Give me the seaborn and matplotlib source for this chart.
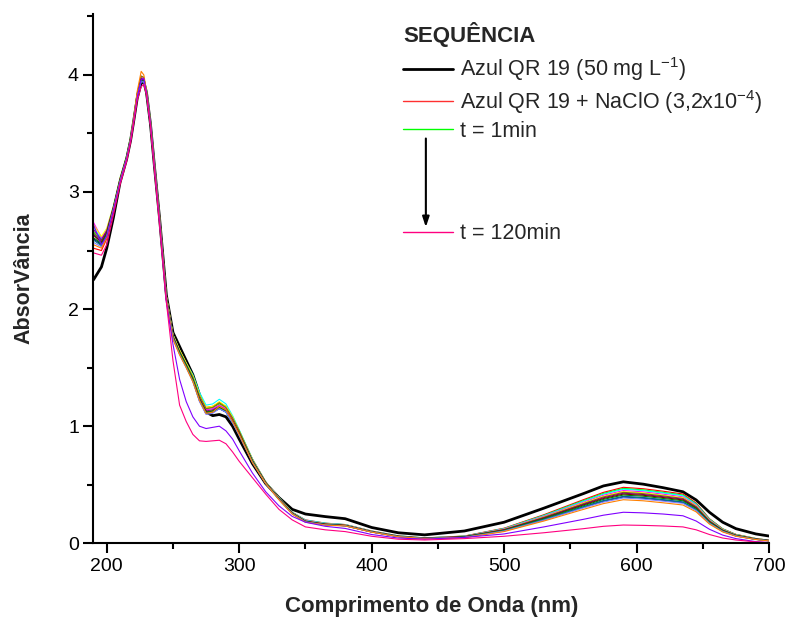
import numpy as np
import pandas as pd
import matplotlib
matplotlib.use('Agg')
import matplotlib.pyplot as plt
from matplotlib.lines import Line2D
from matplotlib.ticker import MultipleLocator
import seaborn as sns

# wavelengths (nm)
wl = [190, 196, 200, 205, 210, 215, 218, 220, 223, 226, 228, 230, 233, 236, 240,
      245, 250, 255, 260, 265, 270, 275, 280, 285, 290, 295, 300, 310, 320, 330, 340,
      350, 365, 380, 400, 420, 440, 470, 500, 530, 560, 575, 590, 605, 620, 635, 645, 655, 665, 675, 690, 700]

azul = [2.25, 2.36, 2.52, 2.78, 3.08, 3.28, 3.44, 3.58, 3.80, 3.93, 3.94, 3.85, 3.58, 3.22, 2.76,
        2.12, 1.80, 1.68, 1.56, 1.44, 1.27, 1.12, 1.09, 1.10, 1.08, 1.00, 0.89, 0.68, 0.51, 0.39, 0.29,
        0.25, 0.228, 0.21, 0.135, 0.09, 0.072, 0.105, 0.18, 0.30, 0.425, 0.49, 0.525, 0.505, 0.475, 0.44, 0.37, 0.265, 0.18, 0.125, 0.08, 0.062]

naclo = [2.52, 2.50, 2.60, 2.85, 3.10, 3.30, 3.46, 3.60, 3.83, 3.97, 3.96, 3.86, 3.60, 3.24, 2.78,
         2.12, 1.78, 1.65, 1.54, 1.43, 1.27, 1.16, 1.17, 1.20, 1.17, 1.08, 0.96, 0.72, 0.525, 0.39, 0.265,
         0.20, 0.172, 0.16, 0.105, 0.064, 0.046, 0.062, 0.129, 0.244, 0.373, 0.435, 0.478, 0.466, 0.445, 0.421, 0.344, 0.21, 0.124, 0.076, 0.041, 0.026]

# kinetic series, t = 1 min ... t = 120 min
t01 = [2.66, 2.58, 2.66, 2.87, 3.11, 3.31, 3.47, 3.61, 3.84, 3.98, 3.97, 3.87, 3.60, 3.24, 2.77,
       2.11, 1.78, 1.64, 1.53, 1.42, 1.26, 1.15, 1.16, 1.19, 1.16, 1.07, 0.96, 0.715, 0.522, 0.388, 0.263,
       0.195, 0.17, 0.158, 0.103, 0.063, 0.045, 0.061, 0.126, 0.239, 0.365, 0.426, 0.468, 0.456, 0.435, 0.412, 0.337, 0.206, 0.122, 0.075, 0.04, 0.026]
t02 = [2.64, 2.57, 2.65, 2.86, 3.10, 3.30, 3.46, 3.60, 3.83, 3.96, 3.95, 3.86, 3.59, 3.23, 2.76,
       2.09, 1.76, 1.62, 1.51, 1.39, 1.22, 1.11, 1.12, 1.15, 1.12, 1.03, 0.93, 0.70, 0.515, 0.38, 0.255,
       0.185, 0.16, 0.15, 0.097, 0.058, 0.041, 0.052, 0.108, 0.204, 0.312, 0.364, 0.40, 0.39, 0.372, 0.352, 0.288, 0.176, 0.104, 0.064, 0.034, 0.022]
t03 = [2.70, 2.60, 2.68, 2.88, 3.12, 3.31, 3.47, 3.61, 3.84, 3.97, 3.96, 3.87, 3.60, 3.24, 2.77,
       2.11, 1.78, 1.65, 1.54, 1.44, 1.29, 1.18, 1.19, 1.23, 1.19, 1.09, 0.97, 0.72, 0.525, 0.39, 0.265,
       0.198, 0.172, 0.16, 0.104, 0.064, 0.046, 0.06, 0.125, 0.236, 0.36, 0.42, 0.462, 0.45, 0.43, 0.407, 0.333, 0.203, 0.12, 0.074, 0.039, 0.025]
t04 = [2.74, 2.61, 2.67, 2.87, 3.11, 3.30, 3.46, 3.60, 3.83, 3.99, 3.97, 3.86, 3.59, 3.23, 2.76,
       2.10, 1.77, 1.64, 1.53, 1.41, 1.25, 1.14, 1.15, 1.18, 1.15, 1.06, 0.95, 0.71, 0.52, 0.385, 0.26,
       0.192, 0.167, 0.157, 0.102, 0.062, 0.044, 0.059, 0.122, 0.23, 0.351, 0.41, 0.45, 0.439, 0.419, 0.396, 0.324, 0.198, 0.117, 0.072, 0.038, 0.025]
t05 = [2.72, 2.62, 2.69, 2.88, 3.12, 3.31, 3.47, 3.61, 3.84, 3.97, 3.97, 3.87, 3.60, 3.24, 2.77,
       2.11, 1.78, 1.65, 1.54, 1.43, 1.27, 1.16, 1.17, 1.21, 1.17, 1.08, 0.96, 0.715, 0.522, 0.386, 0.262,
       0.19, 0.166, 0.156, 0.101, 0.061, 0.044, 0.057, 0.119, 0.225, 0.345, 0.402, 0.442, 0.431, 0.411, 0.389, 0.318, 0.194, 0.115, 0.071, 0.038, 0.024]
t06 = [2.65, 2.58, 2.66, 2.87, 3.11, 3.30, 3.46, 3.60, 3.84, 3.99, 3.98, 3.86, 3.59, 3.23, 2.76,
       2.10, 1.77, 1.64, 1.53, 1.42, 1.26, 1.15, 1.16, 1.20, 1.16, 1.07, 0.96, 0.71, 0.52, 0.384, 0.26,
       0.19, 0.165, 0.155, 0.101, 0.061, 0.044, 0.057, 0.117, 0.222, 0.339, 0.396, 0.435, 0.424, 0.405, 0.383, 0.313, 0.191, 0.113, 0.07, 0.037, 0.024]
t07 = [2.60, 2.55, 2.64, 2.86, 3.10, 3.30, 3.46, 3.60, 3.83, 3.96, 3.95, 3.85, 3.58, 3.22, 2.75,
       2.09, 1.76, 1.62, 1.51, 1.39, 1.22, 1.11, 1.12, 1.16, 1.13, 1.04, 0.93, 0.70, 0.515, 0.378, 0.255,
       0.185, 0.16, 0.15, 0.097, 0.058, 0.041, 0.051, 0.107, 0.201, 0.308, 0.359, 0.395, 0.385, 0.367, 0.348, 0.284, 0.174, 0.103, 0.063, 0.034, 0.022]
t08 = [2.68, 2.59, 2.67, 2.87, 3.11, 3.30, 3.46, 3.60, 3.83, 3.97, 3.96, 3.86, 3.59, 3.23, 2.76,
       2.10, 1.77, 1.63, 1.52, 1.40, 1.24, 1.13, 1.14, 1.17, 1.14, 1.05, 0.94, 0.705, 0.518, 0.382, 0.258,
       0.188, 0.163, 0.153, 0.099, 0.06, 0.043, 0.056, 0.116, 0.218, 0.334, 0.389, 0.428, 0.417, 0.398, 0.377, 0.308, 0.188, 0.111, 0.068, 0.036, 0.024]
t09 = [2.63, 2.57, 2.65, 2.86, 3.10, 3.30, 3.46, 3.60, 3.83, 3.96, 3.95, 3.86, 3.59, 3.23, 2.76,
       2.09, 1.76, 1.63, 1.52, 1.40, 1.23, 1.12, 1.13, 1.16, 1.13, 1.04, 0.94, 0.70, 0.516, 0.38, 0.256,
       0.186, 0.162, 0.152, 0.098, 0.059, 0.042, 0.055, 0.113, 0.214, 0.328, 0.382, 0.42, 0.41, 0.391, 0.37, 0.302, 0.185, 0.109, 0.067, 0.036, 0.023]
t10 = [2.61, 2.56, 2.64, 2.86, 3.10, 3.29, 3.45, 3.59, 3.82, 3.95, 3.95, 3.85, 3.58, 3.22, 2.75,
       2.09, 1.76, 1.63, 1.52, 1.40, 1.23, 1.12, 1.13, 1.16, 1.13, 1.04, 0.93, 0.70, 0.515, 0.378, 0.255,
       0.185, 0.16, 0.151, 0.098, 0.059, 0.042, 0.054, 0.111, 0.21, 0.321, 0.375, 0.412, 0.402, 0.383, 0.363, 0.297, 0.181, 0.107, 0.066, 0.035, 0.023]
t11 = [2.59, 2.54, 2.63, 2.85, 3.09, 3.29, 3.45, 3.59, 3.82, 3.95, 3.94, 3.85, 3.58, 3.22, 2.75,
       2.08, 1.75, 1.62, 1.51, 1.39, 1.22, 1.11, 1.12, 1.15, 1.12, 1.03, 0.93, 0.70, 0.512, 0.376, 0.253,
       0.183, 0.158, 0.15, 0.097, 0.058, 0.041, 0.052, 0.107, 0.203, 0.31, 0.362, 0.398, 0.388, 0.37, 0.35, 0.287, 0.175, 0.103, 0.064, 0.034, 0.022]
t12 = [2.57, 2.53, 2.62, 2.85, 3.09, 3.29, 3.45, 3.59, 3.82, 3.94, 3.94, 3.84, 3.58, 3.22, 2.75,
       2.08, 1.75, 1.61, 1.50, 1.38, 1.21, 1.10, 1.11, 1.15, 1.12, 1.03, 0.92, 0.69, 0.51, 0.374, 0.252,
       0.182, 0.157, 0.149, 0.096, 0.057, 0.041, 0.05, 0.104, 0.197, 0.302, 0.352, 0.387, 0.377, 0.36, 0.341, 0.279, 0.17, 0.101, 0.062, 0.033, 0.021]
t13 = [2.55, 2.52, 2.61, 2.84, 3.08, 3.28, 3.45, 3.60, 3.86, 4.03, 4.00, 3.86, 3.58, 3.22, 2.75,
       2.08, 1.74, 1.61, 1.50, 1.38, 1.22, 1.11, 1.12, 1.17, 1.14, 1.04, 0.93, 0.69, 0.51, 0.372, 0.25,
       0.18, 0.155, 0.148, 0.095, 0.056, 0.04, 0.048, 0.10, 0.19, 0.29, 0.339, 0.372, 0.363, 0.346, 0.327, 0.268, 0.164, 0.097, 0.06, 0.032, 0.02]
t14 = [2.72, 2.55, 2.62, 2.84, 3.08, 3.28, 3.44, 3.58, 3.81, 3.96, 3.97, 3.85, 3.58, 3.21, 2.73,
       2.06, 1.70, 1.40, 1.21, 1.08, 1.00, 0.98, 0.99, 1.00, 0.96, 0.89, 0.79, 0.60, 0.44, 0.32, 0.23,
       0.18, 0.145, 0.127, 0.075, 0.045, 0.035, 0.05, 0.08, 0.14, 0.205, 0.24, 0.265, 0.26, 0.25, 0.235, 0.19, 0.12, 0.07, 0.04, 0.014, 0.006]
t120 = [2.48, 2.46, 2.55, 2.80, 3.06, 3.26, 3.42, 3.56, 3.78, 3.90, 3.92, 3.83, 3.56, 3.19, 2.70,
        2.06, 1.56, 1.18, 1.04, 0.93, 0.875, 0.87, 0.875, 0.88, 0.85, 0.78, 0.70, 0.56, 0.42, 0.29, 0.20,
        0.14, 0.115, 0.10, 0.06, 0.035, 0.028, 0.04, 0.06, 0.09, 0.125, 0.145, 0.156, 0.153, 0.148, 0.14, 0.115, 0.075, 0.045, 0.028, 0.012, 0.006]

series = [azul, naclo, t01, t02, t03, t04, t05, t06, t07, t08, t09, t10, t11, t12, t13, t14, t120]
colors = ['#000000', '#ff0000', '#00ff00', '#0000ff', '#00ffff', '#ff00ff', '#ffff00', '#808000',
          '#000080', '#800080', '#800000', '#008000', '#008080', '#8080ff', '#ff8000', '#8000ff', '#ff0080']

sns.set_style('ticks')
plt.rcParams['font.family'] = ['Liberation Sans', 'DejaVu Sans']
plt.rcParams['mathtext.default'] = 'regular'

fig = plt.figure(figsize=(7.89, 6.19), dpi=100)
ax = fig.add_axes([0.1185, 0.1223, 0.8562, 0.8551])

for i, (vals, c) in enumerate(zip(series, colors)):
    lw = 2.0 if i == 0 else 0.8
    sns.lineplot(x=wl, y=vals, color=c, lw=lw, ax=ax, legend=False, sort=False)

ax.set_xlim(190, 700)
ax.set_ylim(0, 4.52)
ax.xaxis.set_major_locator(MultipleLocator(100))
ax.xaxis.set_minor_locator(MultipleLocator(50))
ax.yaxis.set_major_locator(MultipleLocator(1))
ax.yaxis.set_minor_locator(MultipleLocator(0.5))
sns.despine(ax=ax)
for s in ['left', 'bottom']:
    ax.spines[s].set_linewidth(1.5)
    ax.spines[s].set_color('black')
ax.tick_params(which='major', direction='out', length=7, width=1.5, colors='black', labelsize=14)
ax.tick_params(which='minor', direction='out', length=4, width=1.5, colors='black')

ax.set_xlabel('Comprimento de Onda (nm)', fontsize=16, fontweight='bold', labelpad=15)
ax.set_ylabel('AbsorVância', fontsize=15.5, fontweight='bold', labelpad=24)

handles = [Line2D([], [], color='#000000', lw=2.0),
           Line2D([], [], color='#ff3030', lw=1.0),
           Line2D([], [], color='#00ff00', lw=1.0),
           Line2D([], [], color='none'),
           Line2D([], [], color='none'),
           Line2D([], [], color='none'),
           Line2D([], [], color='#ff0080', lw=1.0)]
labels = ['Azul QR 19 (50 mg L$^{-1}$)', 'Azul QR 19 + NaClO (3,2x10$^{-4}$)', 't = 1min',
          ' ', ' ', ' ', 't = 120min']
leg = ax.legend(handles, labels, title='SEQUÊNCIA', loc='upper left', bbox_to_anchor=(0.458, 0.985),
                frameon=False, fontsize=15.5, handlelength=2.33, handletextpad=0.33,
                labelspacing=0.22, borderpad=0, borderaxespad=0, alignment='left')
leg.get_title().set_fontweight('bold')
leg.get_title().set_fontsize(16)
leg._legend_box.sep = 6

ax.annotate('', xy=(0.492, 0.592), xytext=(0.492, 0.77), xycoords='axes fraction',
            arrowprops=dict(arrowstyle='-|>,head_length=0.6,head_width=0.2', color='black', lw=1.5))

fig.savefig('out.png', dpi=100)
